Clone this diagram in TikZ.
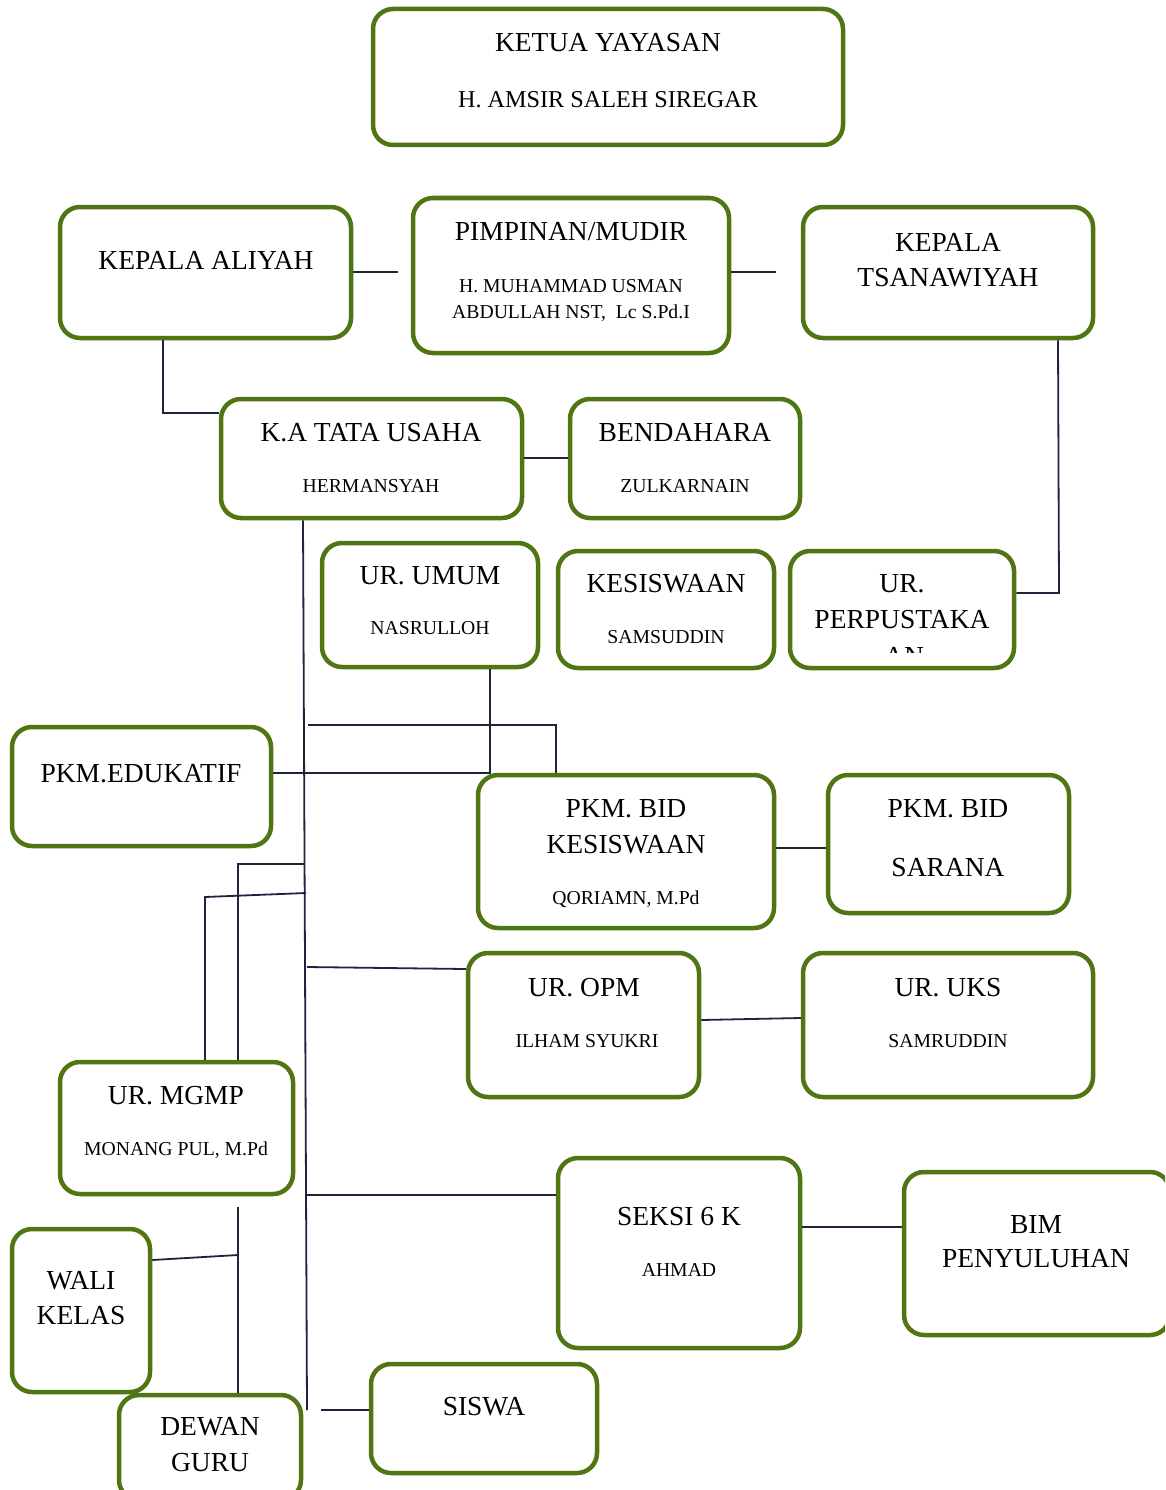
\documentclass[tikz,border=0pt]{standalone}
\usepackage{fontspec}
\setmainfont{Liberation Serif}
\definecolor{boxgreen}{RGB}{80,118,20}
\definecolor{linenavy}{RGB}{30,36,62}
\newcommand{\bx}[5]{\node[obox, minimum width={(#4)-(#2)}, minimum height={(#5)-(#3)}] (#1) at ({((#2)+(#4))/2},{((#3)+(#5))/2}) {};}
\begin{document}
\begin{tikzpicture}[x=1pt,y=-1pt,
  obox/.style={draw=boxgreen, line width=4.5pt, rounded corners=20pt, fill=white, inner sep=0pt, outer sep=2.25pt},
  conn/.style={draw=linenavy, line width=1.8pt},
  tl/.style={anchor=base, yshift=-9.1pt, font=\fontsize{27.5}{31}\selectfont, inner sep=0pt},
  tm/.style={anchor=base, yshift=-7.9pt, font=\fontsize{24.2}{28}\selectfont, inner sep=0pt},
  nm/.style={anchor=base, yshift=-6.5pt, font=\fontsize{19.7}{23}\selectfont, inner sep=0pt}]
\useasboundingbox (0,0) rectangle (1165,1490);
\clip (0,0) rectangle (1165,1490);
\fill[white] (0,0) rectangle (1165,1490);

% boxes
\bx{ketua}{373}{9}{843}{145}
\bx{aliyah}{60}{207}{351}{338}
\bx{pimpinan}{413}{198}{729}{353}
\bx{tsanawiyah}{803}{207}{1093}{338}
\bx{tatausaha}{221}{399}{522}{518}
\bx{bendahara}{570}{399}{800}{518}
\bx{umum}{322}{543}{538}{667}
\bx{kesiswaan}{558}{551}{774}{668}
\bx{perpus}{790}{551}{1014}{668}
\bx{edukatif}{12}{727}{271}{846}
\bx{pkmkes}{478}{775}{774}{928}
\bx{sarana}{828}{775}{1069}{913}
\bx{opm}{468}{953}{699}{1097}
\bx{uks}{803}{953}{1093}{1097}
\bx{mgmp}{60}{1062}{293}{1194}
\bx{seksi}{558}{1158}{800}{1348}
\bx{bim}{904}{1172}{1170}{1335}
\bx{wali}{12}{1229}{150}{1392}
\bx{dewan}{119}{1395}{301}{1500}
\bx{siswa}{371}{1364}{597}{1473}

% texts
\node[tl] (ketua-a) at (608,42) {KETUA YAYASAN};
\node[tm] (ketua-b) at (608,100) {H. AMSIR SALEH SIREGAR};
\node[tl] (aliyah-a) at (206,260) {KEPALA ALIYAH};
\node[tl] (pimpinan-a) at (571,231) {PIMPINAN/MUDIR};
\node[nm] (pimpinan-b) at (571,286) {H. MUHAMMAD USMAN};
\node[nm] (pimpinan-c) at (571,312) {ABDULLAH NST,\ \ Lc S.Pd.I};
\node[tl] (tsan-a) at (948,242) {KEPALA};
\node[tl] (tsan-b) at (948,277) {TSANAWIYAH};
\node[tl] (tu-a) at (371,432) {K.A TATA USAHA};
\node[nm] (tu-b) at (371,486) {HERMANSYAH};
\node[tl] (bend-a) at (685,432) {BENDAHARA};
\node[nm] (bend-b) at (685,486) {ZULKARNAIN};
\node[tl] (umum-a) at (430,575) {UR. UMUM};
\node[nm] (umum-b) at (430,628) {NASRULLOH};
\node[tl] (kes-a) at (666,583) {KESISWAAN};
\node[nm] (kes-b) at (666,637) {SAMSUDDIN};
\node[tl] (perp-a) at (902,583) {UR.};
\node[tl] (perp-b) at (902,619) {PERPUSTAKA};
\begin{scope}
\clip (800,560) rectangle (1000,652);
\node[tl] (perp-c) at (904,656) {AN};
\end{scope}
\node[tl] (edu-a) at (141,773) {PKM.EDUKATIF};
\node[tl] (pk-a) at (626,808) {PKM. BID};
\node[tl] (pk-b) at (626,844) {KESISWAAN};
\node[nm] (pk-c) at (626,898) {QORIAMN, M.Pd};
\node[tl] (sar-a) at (948,808) {PKM. BID};
\node[tl] (sar-b) at (948,867) {SARANA};
\node[tl] (opm-a) at (584,987) {UR. OPM};
\node[nm] (opm-b) at (587,1041) {ILHAM SYUKRI};
\node[tl] (uks-a) at (948,987) {UR. UKS};
\node[nm] (uks-b) at (948,1041) {SAMRUDDIN};
\node[tl] (mgmp-a) at (176,1095) {UR. MGMP};
\node[nm] (mgmp-b) at (176,1149) {MONANG PUL, M.Pd};
\node[tl] (seksi-a) at (679,1216) {SEKSI 6 K};
\node[nm] (seksi-b) at (679,1270) {AHMAD};
\node[tl] (bim-a) at (1036,1224) {BIM};
\node[tl] (bim-b) at (1036,1258) {PENYULUHAN};
\node[tl] (wali-a) at (81,1280) {WALI};
\node[tl] (wali-b) at (81,1315) {KELAS};
\node[tl] (dewan-a) at (210,1426) {DEWAN};
\node[tl] (dewan-b) at (210,1462) {GURU};
\node[tl] (siswa-a) at (484,1406) {SISWA};

% connector free ends
\coordinate (e1) at (398,272);
\coordinate (e2) at (776,272);
\coordinate (j3) at (163,413);
\coordinate (j5) at (1059,593);
\coordinate (mtop) at (303,520);
\coordinate (mbot) at (307,1410);
\coordinate (j7a) at (308,725);
\coordinate (j7b) at (556,725);
\coordinate (j8) at (490,773);
\coordinate (j9a) at (304,864);
\coordinate (j9b) at (238,864);
\coordinate (j10a) at (306,893);
\coordinate (j10b) at (205,897);
\coordinate (j11) at (307,967);
\coordinate (j14) at (307,1195);
\coordinate (j16) at (238,1207);
\coordinate (j17) at (238,1255);
\coordinate (j18) at (321,1410);

% connectors
\draw[conn] (aliyah.east |- e1) -- (e1);
\draw[conn] (pimpinan.east |- e2) -- (e2);
\draw[conn] (j3 |- aliyah.south) -- (j3) -- (tatausaha.west |- j3);
\draw[conn] (tatausaha.east |- 0,458) -- (bendahara.west |- 0,458);
\draw[conn] (1058,0 |- tsanawiyah.south) -- (j5) -- (perpus.east |- j5);
\draw[conn] (mtop |- tatausaha.south) -- (mbot);
\draw[conn] (j7a) -- (j7b) -- (j7b |- pkmkes.north);
\draw[conn] (edukatif.east |- j8) -- (j8) -- (j8 |- umum.south);
\draw[conn] (j9a) -- (j9b) -- (j9b |- mgmp.north);
\draw[conn] (j10a) -- (j10b) -- (j10b |- mgmp.north);
\draw[conn] (j11) -- (opm.west |- 0,969);
\draw[conn] (opm.east |- 0,1020) -- (uks.west |- 0,1018);
\draw[conn] (pkmkes.east |- 0,848) -- (sarana.west |- 0,848);
\draw[conn] (j14) -- (seksi.west |- j14);
\draw[conn] (seksi.east |- 0,1227) -- (bim.west |- 0,1227);
\draw[conn] (j16) -- (j16 |- dewan.north);
\draw[conn] (wali.east |- 0,1260) -- (j17);
\draw[conn] (j18) -- (siswa.west |- j18);
\end{tikzpicture}
\end{document}
